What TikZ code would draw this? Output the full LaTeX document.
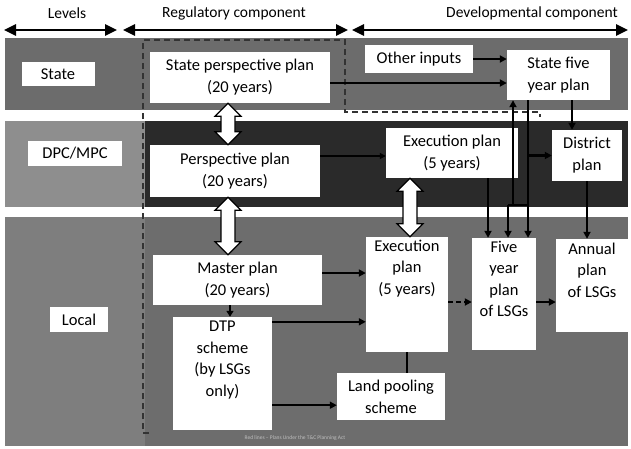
\documentclass[tikz,border=0pt]{standalone}
\usepackage{fontspec}
\setmainfont{Carlito}
\usepackage{tikz}
\usetikzlibrary{
    arrows.meta,
    calc
}

\definecolor{stateband}{HTML}{6C6C6C}
\definecolor{dpcleft}{HTML}{8E8E8E}
\definecolor{dpcright}{HTML}{2A2A2A}
\definecolor{localleft}{HTML}{7E7E7E}
\definecolor{localright}{HTML}{6D6D6D}

% white double block arrow between two points (top, bottom)
\newcommand{\blockarrow}[2]{%
    \draw[blockarr] let \p1=(#1), \p2=(#2) in
        (\x1,\y1) -- ++(13pt,-13pt) -- ++(-6pt,0pt) -- (\x1+7pt,\y2+13pt) -- ++(6pt,0pt)
        -- (\x2,\y2) -- ++(-13pt,13pt) -- ++(6pt,0pt) -- (\x1-7pt,\y1-13pt) -- ++(-6pt,0pt) -- cycle;}

\begin{document}
\begin{tikzpicture}[x=1pt, y=-1pt,
    box/.style={fill=white, inner sep=0pt, align=center, font=\fontsize{16.5}{22}\selectfont},
    boxtxt/.style={inner sep=0pt, align=center, anchor=north, font=\fontsize{16.5}{21.5}\selectfont},
    conn/.style={line width=2.2pt, -{Triangle[length=7pt, width=7pt]}},
    levelarr/.style={line width=2.6pt, {Triangle[length=12pt, width=11pt]}-{Triangle[length=12pt, width=11pt]}},
    blockarr/.style={fill=white, draw=black, line width=1.2pt, line join=miter}]

    \useasboundingbox (0,0) rectangle (631,448);

    % Bands for the three levels
    \fill[stateband] (5,38) rectangle (628,110);
    \fill[dpcleft] (5,121) rectangle (145,207);
    \fill[dpcright] (145,121) rectangle (628,207);
    \fill[localleft] (5,217) rectangle (145,446);
    \fill[localright] (145,217) rectangle (628,446);

    % Column headings
    \node[font=\fontsize{15.5}{18}\selectfont] (hlev) at (67,13) {Levels};
    \node[font=\fontsize{15.5}{18}\selectfont] (hreg) at (234,13) {Regulatory component};
    \node[font=\fontsize{15.5}{18}\selectfont] (hdev) at (532,13) {Developmental component};
    \coordinate (lev1) at (4,30);
    \coordinate (lev2) at (117,30);
    \coordinate (reg1) at (123,30);
    \coordinate (reg2) at (348,30);
    \coordinate (dev1) at (352,30);
    \coordinate (dev2) at (628,30);
    \draw[levelarr] (lev1) -- (lev2);
    \draw[levelarr] (reg1) -- (reg2);
    \draw[levelarr] (dev1) -- (dev2);

    % Dashed outline of the regulatory part
    \draw[black!80, line width=1.2pt, dash pattern=on 6pt off 4pt]
        (149,433) -- (143,433) -- (143,40) -- (345,40) -- (345,112) -- (540,112) -- (540,117);

    % State level
    \node[box, minimum width=73, minimum height=24] (state) at (58,74) {State};
    \node[box, minimum width=180, minimum height=51] (spp) at (240,77.5) {State perspective plan\\(20 years)};
    \node[box, minimum width=108, minimum height=28] (oth) at (419,59) {Other inputs};
    \node[box, minimum width=103, minimum height=50] (sfive) at (558.5,75) {State five\\year plan};

    % DPC/MPC level
    \node[box, minimum width=94, minimum height=25] (dpc) at (75,153) {DPC/MPC};
    \node[box, minimum width=170, minimum height=52] (persp) at (235,171) {Perspective plan\\(20 years)};
    \node[box, minimum width=132, minimum height=50] (execD) at (452,153) {Execution plan\\(5 years)};
    \node[box, minimum width=70, minimum height=51] (dist) at (587,155.5) {District\\plan};

    % Local level
    \node[box, minimum width=58, minimum height=25] (local) at (79,319.5) {Local};
    \node[box, minimum width=169, minimum height=50] (master) at (237.5,280) {Master plan\\(20 years)};
    \node[box, minimum width=99, minimum height=113] (dtp) at (222.5,373.5) {};
    \node[boxtxt] (dtptxt) at ($(dtp.north)+(0,4)$) {DTP\\scheme\\(by LSGs\\only)};
    \node[box, minimum width=82, minimum height=115] (execL) at (407,294.5) {};
    \node[boxtxt] (execLtxt) at ($(execL.north)+(0,3)$) {Execution\\plan\\(5 years)};
    \node[box, minimum width=108, minimum height=47] (land) at (391,396.5) {Land pooling\\scheme};
    \node[box, minimum width=64, minimum height=112] (fiveL) at (504,294) {};
    \node[boxtxt] (fiveLtxt) at ($(fiveL.north)+(0,3)$) {Five\\year\\plan\\of LSGs};
    \node[box, minimum width=72, minimum height=93] (annual) at (592,285.5) {};
    \node[boxtxt] (annualtxt) at ($(annual.north)+(0,4)$) {Annual\\plan\\of LSGs};

    % White block arrows between levels
    \coordinate (b1t) at ($(spp.south)+(-12,0)$);
    \coordinate (b1b) at (b1t |- persp.north);
    \coordinate (b2t) at (b1t |- persp.south);
    \coordinate (b2b) at (b1t |- master.north);
    \coordinate (b3t) at ($(execD.south)+(-42,0)$);
    \coordinate (b3b) at (b3t |- execL.north);
    \blockarrow{b1t}{b1b}
    \blockarrow{b2t}{b2b}
    \blockarrow{b3t}{b3b}

    % State level connectors
    \coordinate (s1) at ($(spp.east)+(0,5.5)$);
    \draw[conn] (oth.east) -- (oth.east -| sfive.west);
    \draw[conn] (s1) -- (s1 -| sfive.west);

    % DPC/MPC level connectors
    \coordinate (d1) at ($(persp.east)+(0,-15)$);
    \coordinate (sf1) at ($(sfive.south)+(-30.5,0)$);
    \coordinate (sf2) at ($(sfive.south)+(13.5,0)$);
    \coordinate (jn) at ($(sf1 |- persp.south)+(0,8)$);
    \coordinate (jnup) at ($(jn)+(-15,0)$);
    \coordinate (jndn) at ($(jn)+(-20,0)$);
    \coordinate (ex1) at ($(execD.south)+(36,0)$);
    \draw[line width=1.5pt, -{Triangle[length=6pt, width=6pt]}] (d1) -- (d1 -| execD.west);
    \draw[conn] (sf2) -- (sf2 |- dist.north);
    \draw[conn] (sf1 |- dist.west) -- (dist.west);
    \draw[conn] (sf1) -- (sf1 |- fiveL.north);
    \draw[line width=2.2pt] (jn) -- (jndn);
    \draw[conn] (jnup) -- (jnup |- sfive.south);
    \draw[conn] (jndn) -- (jndn |- fiveL.north);
    \draw[conn] (ex1) -- (ex1 |- fiveL.north);
    \draw[conn] (dist.south) -- (dist.south |- annual.north);

    % Local level connectors
    \coordinate (m1) at ($(master.east)+(0,-7)$);
    \coordinate (t1) at ($(dtp.north east)+(0,5)$);
    \coordinate (t2) at ($(dtp.south east)+(0,-25)$);
    \coordinate (m2) at ($(master.south)+(-7.5,0)$);
    \coordinate (e1) at ($(execL.east)+(0,7.5)$);
    \coordinate (f1) at ($(fiveL.east)+(0,8)$);
    \draw[conn] (m1) -- (m1 -| execL.west);
    \draw[conn] (t1) -- (t1 -| execL.west);
    \draw[conn] (t2) -- (t2 -| land.west);
    \draw[line width=1.5pt, -{Triangle[length=6pt, width=7pt]}] (m2) -- (m2 |- dtp.north);
    \draw[line width=2pt] (execL.south) -- (execL.south |- land.north);
    \draw[conn, dash pattern=on 5pt off 3pt] (e1) -- (e1 -| fiveL.west);
    \draw[conn] (f1) -- (f1 -| annual.west);

    % Note at the foot
    \node[text=black!25, font=\fontsize{5.5}{6}\selectfont] (note) at (295,438) {Red lines -- Plans Under the T\&C Planning Act};
\end{tikzpicture}
\end{document}
